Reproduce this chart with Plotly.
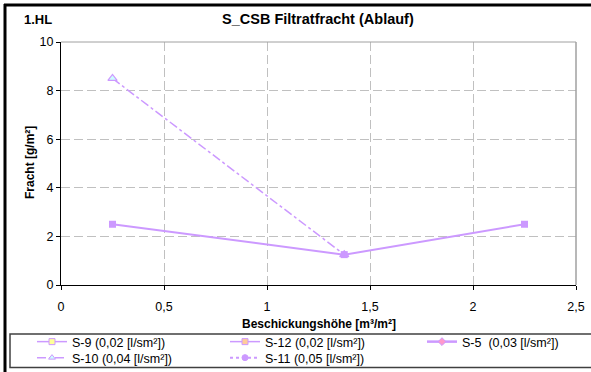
import plotly.graph_objects as go

# Data
x_s10 = [0.25, 1.375]
y_s10 = [8.5, 1.25]
x_s11 = [0.25, 1.375, 2.25]
y_s11 = [2.5, 1.25, 2.5]

legend_names = ["S-9 (0,02 [l/sm²])", "S-12 (0,02 [l/sm²])", "S-5\u00a0\u00a0(0,03 [l/sm²])",
                "S-10 (0,04 [l/sm²])", "S-11 (0,05 [l/sm²])"]
x_ticks = [0, 0.5, 1, 1.5, 2, 2.5]
x_tick_labels = ["0", "0,5", "1", "1,5", "2", "2,5"]
y_ticks = [0, 2, 4, 6, 8, 10]

VIOLET = "#CC99FF"

W, H = 591, 372
L, R, T, B = 61, 576, 42, 285
def px(x): return (x - L) / (R - L)
def py(y): return (B - y) / (B - T)

FONT = "Liberation Sans, Arial"

fig = go.Figure()

# Legend-only entries (styled as in reference legend), each in its own legend box
leg_styles = [
    dict(line=dict(color=VIOLET, width=1.5), marker=dict(symbol="square", size=6, color="#FFFF99", line=dict(color=VIOLET, width=1))),
    dict(line=dict(color=VIOLET, width=1.5), marker=dict(symbol="square", size=6, color="#FFCC99", line=dict(color=VIOLET, width=1))),
    dict(line=dict(color=VIOLET, width=2.5), marker=dict(symbol="diamond", size=6, color="#FF99CC", line=dict(color=VIOLET, width=1))),
    dict(line=dict(color=VIOLET, width=1.5, dash="dashdot"), marker=dict(symbol="triangle-up", size=6, color="#CCFFFF", line=dict(color=VIOLET, width=1))),
    dict(line=dict(color=VIOLET, width=2, dash="dot"), marker=dict(symbol="circle", size=6, color=VIOLET, line=dict(color=VIOLET, width=1))),
]
leg_ids = ["legend", "legend2", "legend3", "legend4", "legend5"]
leg_text_x = [72, 265, 462, 72, 265]
leg_row_y = [342, 342, 342, 358, 358]
for name, st, lid in zip(legend_names, leg_styles, leg_ids):
    fig.add_trace(go.Scatter(x=[None], y=[None], mode="lines+markers", name=name, showlegend=True, legend=lid, **st))

# Data traces
fig.add_trace(go.Scatter(x=x_s10, y=y_s10, mode="lines+markers", showlegend=False, name=legend_names[3],
                         line=dict(color=VIOLET, width=1.5, dash="dashdot"),
                         marker=dict(symbol="triangle-up", size=8, color="#CCFFFF", line=dict(color=VIOLET, width=1.2))))
fig.add_trace(go.Scatter(x=x_s11, y=y_s11, mode="lines+markers", showlegend=False, name=legend_names[4],
                         line=dict(color=VIOLET, width=2),
                         marker=dict(symbol="square", size=7, color=VIOLET)))

shapes = [
    dict(type="line", xref="paper", yref="paper", x0=0, x1=1, y0=1, y1=1, line=dict(color="#A0A0A0", width=1)),
    dict(type="line", xref="paper", yref="paper", x0=1, x1=1, y0=0, y1=1, line=dict(color="#A0A0A0", width=1.5)),
    dict(type="line", xref="paper", yref="paper", x0=px(4), x1=px(600), y0=py(5), y1=py(5), line=dict(color="black", width=3)),
    dict(type="line", xref="paper", yref="paper", x0=px(5), x1=px(5), y0=py(4), y1=py(380), line=dict(color="black", width=3)),
    dict(type="rect", xref="paper", yref="paper", x0=px(10), x1=px(600), y0=py(334), y1=py(367.5), line=dict(color="#404040", width=1.5)),
]

annotations = [
    dict(text="<b>1.HL</b>", xref="paper", yref="paper", x=px(22), y=py(19), xanchor="left", yanchor="middle",
         showarrow=False, font=dict(size=13, color="black", family=FONT)),
    dict(text="<b>S_CSB Filtratfracht (Ablauf)</b>", xref="paper", yref="paper", x=px(318), y=py(19), xanchor="center",
         yanchor="middle", showarrow=False, font=dict(size=14.5, color="black", family=FONT)),
    dict(text="<b>Beschickungshöhe [m³/m²]</b>", xref="paper", yref="paper", x=px(319), y=py(324), xanchor="center",
         yanchor="middle", showarrow=False, font=dict(size=12, color="black", family=FONT)),
    dict(text="<b>Fracht [g/m²]</b>", xref="paper", yref="paper", x=px(30), y=py(163), xanchor="center",
         yanchor="middle", textangle=-90, showarrow=False, font=dict(size=12, color="black", family=FONT)),
]

layout_legends = {}
for lid, tx, ry in zip(leg_ids, leg_text_x, leg_row_y):
    layout_legends[lid] = dict(x=px(tx - 40), y=py(ry), xanchor="left", yanchor="middle",
                               bgcolor="rgba(0,0,0,0)", borderwidth=0,
                               font=dict(size=12.5, color="black", family=FONT))

fig.update_layout(
    width=W, height=H,
    margin=dict(l=L, r=W - R, t=T, b=H - B, autoexpand=False),
    paper_bgcolor="white", plot_bgcolor="white",
    font=dict(family=FONT, size=12, color="black"),
    shapes=shapes, annotations=annotations,
    showlegend=True,
    xaxis=dict(range=[0, 2.5], tickvals=x_ticks, ticktext=x_tick_labels, showline=True, linecolor="black", linewidth=1,
               ticks="outside", ticklen=4, tickcolor="black", showgrid=True, gridcolor="#C0C0C0", griddash="9px,4px",
               gridwidth=1, zeroline=False, ticklabelstandoff=6, tickfont=dict(size=12.5)),
    yaxis=dict(range=[0, 10], tickvals=y_ticks, showline=True, linecolor="black", linewidth=1,
               ticks="outside", ticklen=4, tickcolor="black", showgrid=True, gridcolor="#C0C0C0", griddash="9px,4px",
               gridwidth=1, zeroline=False, tickfont=dict(size=12.5)),
    **layout_legends,
)

fig.write_html("out.html", config={"displayModeBar": False},
               post_script="document.body.style.margin='0';")
